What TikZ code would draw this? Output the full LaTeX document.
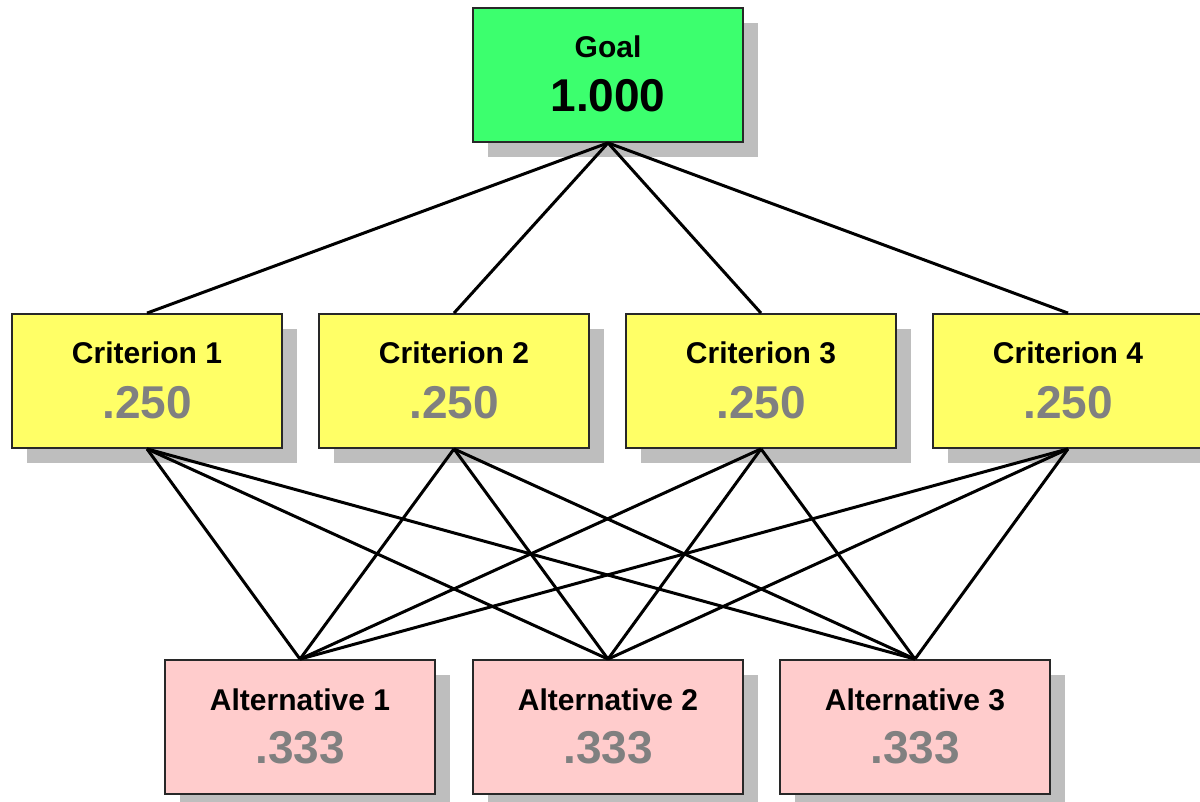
\documentclass[tikz,border=0pt]{standalone}
\usepackage{fontspec}
\setmainfont{Liberation Sans}
\usetikzlibrary{shadows}
\definecolor{goalgreen}{RGB}{60,255,110}
\definecolor{crityellow}{RGB}{255,255,102}
\definecolor{altpink}{RGB}{255,204,204}
\definecolor{shadowgray}{RGB}{190,190,190}
\definecolor{numgray}{RGB}{128,128,128}
\definecolor{edgegray}{RGB}{40,40,40}
\tikzset{
  box/.style={draw=edgegray, line width=1.8pt, minimum width=270pt, minimum height=134pt, inner sep=0pt,
    drop shadow={shadow xshift=15pt, shadow yshift=-15pt, fill=shadowgray, opacity=1}},
  goalbox/.style={box, fill=goalgreen},
  critbox/.style={box, fill=crityellow},
  altbox/.style={box, fill=altpink},
  titletext/.style={anchor=base, inner sep=0pt, font=\fontsize{30}{36}\selectfont\bfseries},
  numtext/.style={anchor=base, inner sep=0pt, font=\fontsize{46}{54}\selectfont\bfseries},
  link/.style={line width=3pt, black}
}
\begin{document}
\begin{tikzpicture}[x=1pt,y=-1pt]
\useasboundingbox (0,0) rectangle (1200,802);
\clip (0,0) rectangle (1200,802);
\fill[white] (0,0) rectangle (1200,802);
% boxes
\node[goalbox] (g) at (608,75) {};
\node[critbox] (c1) at (147,381) {};
\node[critbox] (c2) at (454,381) {};
\node[critbox] (c3) at (761,381) {};
\node[critbox] (c4) at (1068,381) {};
\node[altbox] (a1) at (300,727) {};
\node[altbox] (a2) at (608,727) {};
\node[altbox] (a3) at (915,727) {};
% connectors
\foreach \c in {c1,c2,c3,c4}{
  \draw[link] (g.south) -- (\c.north);
  \foreach \a in {a1,a2,a3}{
    \draw[link] (\c.south) -- (\a.north);
  }
}
% texts
\node[titletext] (gt) at (608,58) {Goal};
\node[numtext] (gn) at (608,112) {1.000};
\node[titletext] (c1t) at (147,364) {Criterion 1};
\node[numtext, numgray] (c1n) at (147,418) {.250};
\node[titletext] (c2t) at (454,364) {Criterion 2};
\node[numtext, numgray] (c2n) at (454,418) {.250};
\node[titletext] (c3t) at (761,364) {Criterion 3};
\node[numtext, numgray] (c3n) at (761,418) {.250};
\node[titletext] (c4t) at (1068,364) {Criterion 4};
\node[numtext, numgray] (c4n) at (1068,418) {.250};
\node[titletext] (a1t) at (300,710) {Alternative 1};
\node[numtext, numgray] (a1n) at (300,763) {.333};
\node[titletext] (a2t) at (608,710) {Alternative 2};
\node[numtext, numgray] (a2n) at (608,763) {.333};
\node[titletext] (a3t) at (915,710) {Alternative 3};
\node[numtext, numgray] (a3n) at (915,763) {.333};
\end{tikzpicture}
\end{document}
